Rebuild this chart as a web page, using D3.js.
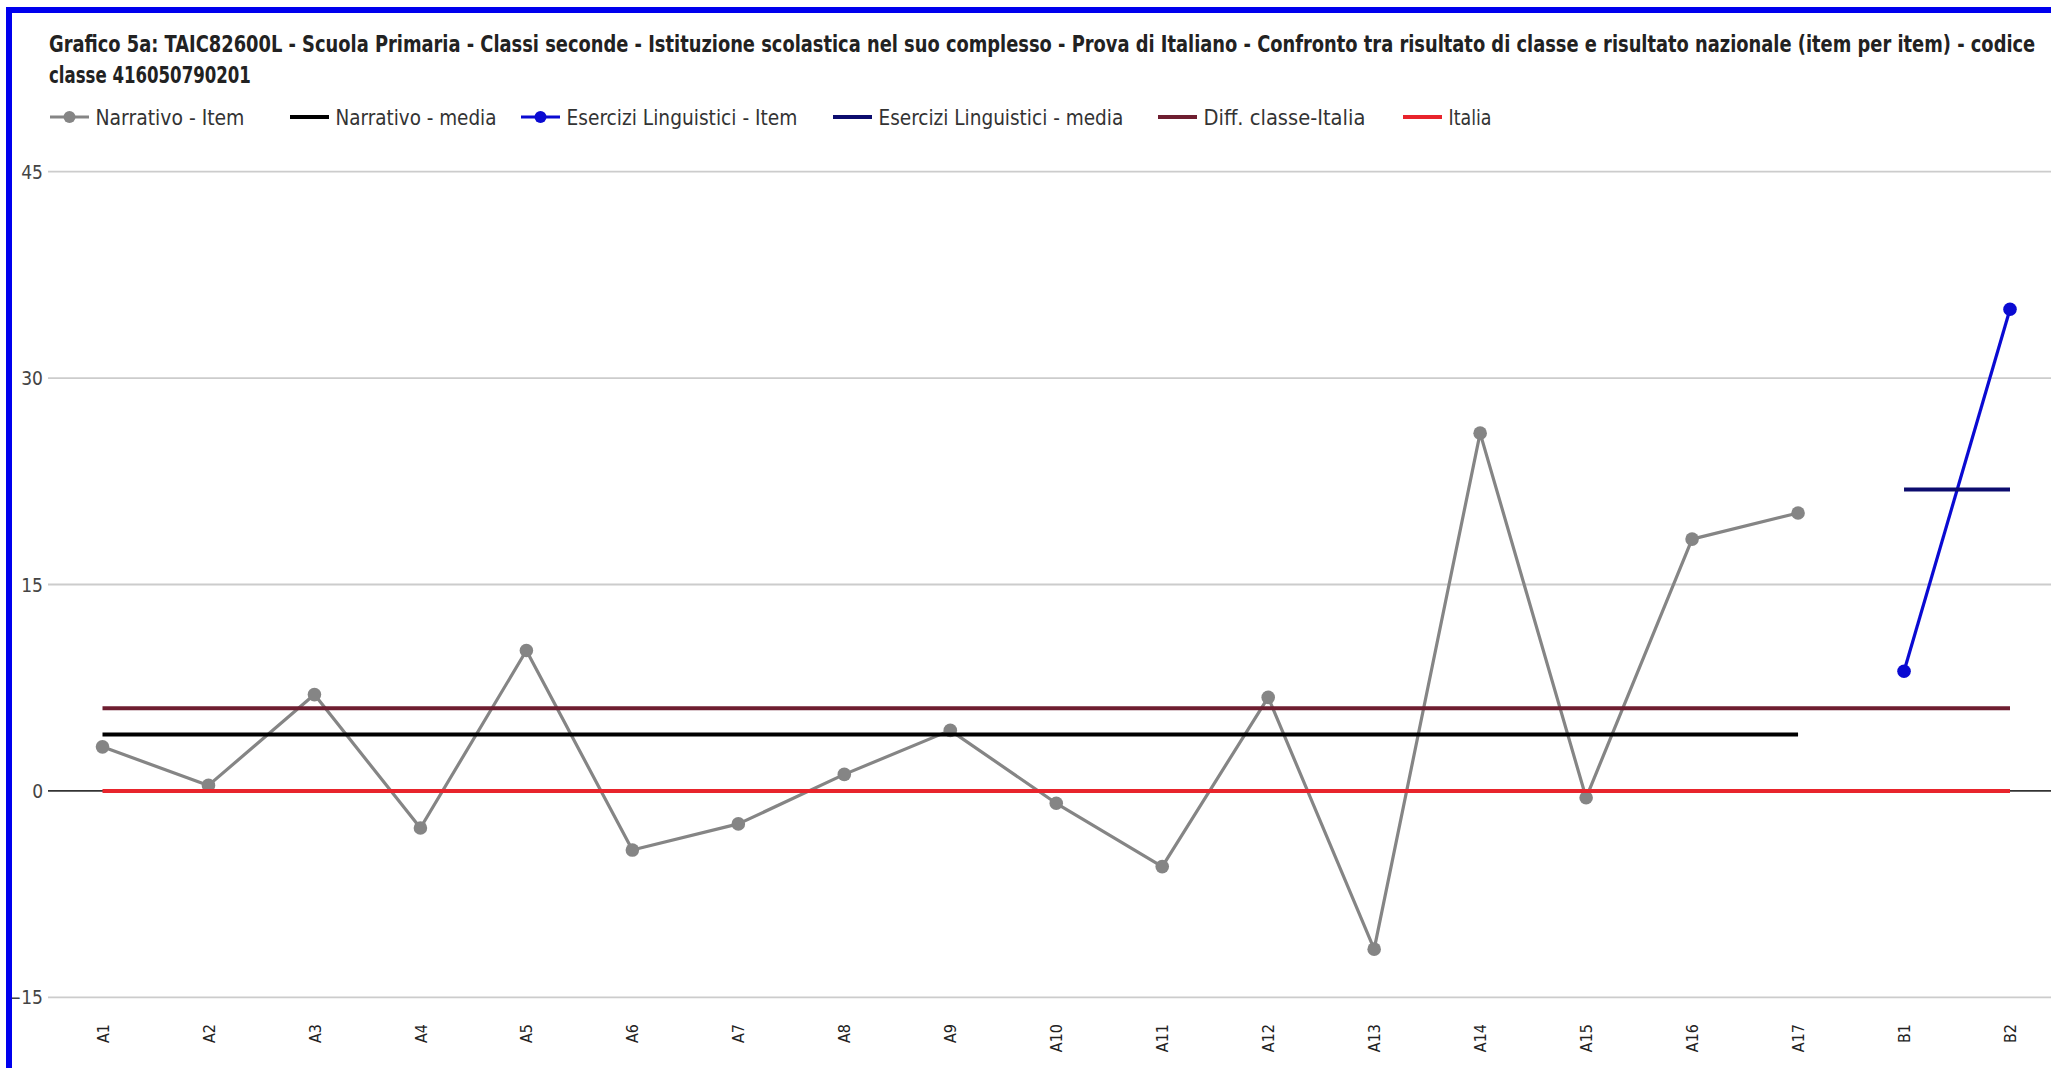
<!DOCTYPE html>
<html>
<head>
<meta charset="utf-8">
<script src="https://cdn.jsdelivr.net/npm/d3@7"></script>
<style>
  html, body { margin: 0; padding: 0; background: #fff; overflow: hidden; }
  svg { display: block; }
</style>
</head>
<body>
<script>
// ---------- DATA ----------
const categories = ["A1","A2","A3","A4","A5","A6","A7","A8","A9","A10","A11","A12","A13","A14","A15","A16","A17","B1","B2"];
const narrativoItem   = [3.2, 0.4, 7.0, -2.7, 10.2, -4.3, -2.4, 1.2, 4.4, -0.9, -5.5, 6.8, -11.5, 26.0, -0.5, 18.3, 20.2, null, null];
const narrativoMedia  = [4.1, 4.1, 4.1, 4.1, 4.1, 4.1, 4.1, 4.1, 4.1, 4.1, 4.1, 4.1, 4.1, 4.1, 4.1, 4.1, 4.1, null, null];
const eserciziItem    = [null, null, null, null, null, null, null, null, null, null, null, null, null, null, null, null, null, 8.7, 35.0];
const eserciziMedia   = [null, null, null, null, null, null, null, null, null, null, null, null, null, null, null, null, null, 21.9, 21.9];
const diffClasseItalia= [6.0, 6.0, 6.0, 6.0, 6.0, 6.0, 6.0, 6.0, 6.0, 6.0, 6.0, 6.0, 6.0, 6.0, 6.0, 6.0, 6.0, 6.0, 6.0];
const italia          = [0, 0, 0, 0, 0, 0, 0, 0, 0, 0, 0, 0, 0, 0, 0, 0, 0, 0, 0];
const yTicks = [-15, 0, 15, 30, 45];
const seriesNames = ["Narrativo - Item", "Narrativo - media", "Esercizi Linguistici - Item", "Esercizi Linguistici - media", "Diff. classe-Italia", "Italia"];
const titleLine1 = "Grafico 5a: TAIC82600L - Scuola Primaria - Classi seconde - Istituzione scolastica nel suo complesso - Prova di Italiano - Confronto tra risultato di classe e risultato nazionale (item per item) - codice";
const titleLine2 = "classe 416050790201";

// ---------- STYLE ----------
const W = 2051, H = 1068;
const FONT = "'Liberation Sans Narrow', 'DejaVu Sans Condensed', 'Liberation Sans', sans-serif";
const series = [
  { name: seriesNames[0], values: narrativoItem,    color: "#858585", width: 3.2, marker: true },
  { name: seriesNames[1], values: narrativoMedia,   color: "#000000", width: 4,   marker: false },
  { name: seriesNames[2], values: eserciziItem,     color: "#0a0ad2", width: 3.2, marker: true },
  { name: seriesNames[3], values: eserciziMedia,    color: "#0c0c6e", width: 4,   marker: false },
  { name: seriesNames[4], values: diffClasseItalia, color: "#6e1e30", width: 4,   marker: false },
  { name: seriesNames[5], values: italia,           color: "#e8242c", width: 4,   marker: false }
];

const svg = d3.select("body").append("svg").attr("width", W).attr("height", H);
svg.append("rect").attr("width", W).attr("height", H).attr("fill", "#fff");

// scales
const x = d3.scalePoint().domain(categories).range([102.5, 2010]);
const y = d3.scaleLinear().domain([-15, 45]).range([997.3, 171.7]);

// gridlines
const gridLeft = 48, gridRight = W;
svg.append("g").selectAll("line").data(yTicks.filter(d => d !== 0)).join("line")
  .attr("x1", gridLeft).attr("x2", gridRight)
  .attr("y1", d => y(d)).attr("y2", d => y(d))
  .attr("stroke", "#cccccc").attr("stroke-width", 1.8);

// zero baseline
svg.append("line").attr("x1", gridLeft).attr("x2", gridRight)
  .attr("y1", y(0)).attr("y2", y(0)).attr("stroke", "#333").attr("stroke-width", 1.6);

// y axis labels via d3 axis
const yAxis = d3.axisLeft(y).tickValues(yTicks).tickSize(0).tickPadding(0).tickFormat(d3.format("d"));
const gy = svg.append("g").attr("transform", "translate(43,0)").call(yAxis);
gy.select(".domain").remove();
gy.selectAll("text").attr("font-family", FONT).attr("font-size", 19).attr("fill", "#444").attr("dy", "0.35em");

// x axis labels via d3 axis
const xAxis = d3.axisBottom(x).tickSize(0).tickPadding(0);
const gx = svg.append("g").attr("transform", "translate(0,1024)").call(xAxis);
gx.select(".domain").remove();
gx.selectAll("text")
  .attr("font-family", FONT).attr("font-size", 16).attr("fill", "#222")
  .attr("text-anchor", "end").attr("transform", "rotate(-90)")
  .attr("x", 0).attr("y", 0).attr("dy", "0.35em");

// series
const line = d3.line().defined(d => d.v !== null).x(d => x(d.c)).y(d => y(d.v));
series.forEach(s => {
  const pts = categories.map((c, i) => ({ c, v: s.values[i] }));
  svg.append("path").datum(pts).attr("d", line)
    .attr("fill", "none").attr("stroke", s.color).attr("stroke-width", s.width)
    .attr("stroke-linejoin", "round");
  if (s.marker) {
    svg.append("g").selectAll("circle").data(pts.filter(d => d.v !== null)).join("circle")
      .attr("cx", d => x(d.c)).attr("cy", d => y(d.v)).attr("r", 6.8).attr("fill", s.color);
  }
});

// text condensed horizontally (keeps glyph height) to match the narrow original font
function narrowText(parent, tx, ty, str, size, weight, target, extraAttrs) {
  const g = parent.append("g");
  const t = g.append("text").attr("x", 0).attr("y", 0).text(str)
    .attr("font-family", FONT).attr("font-weight", weight).attr("font-size", size).attr("fill", "#222");
  if (extraAttrs) extraAttrs(t);
  const len = t.node().getComputedTextLength();
  const k = len > target ? target / len : 1;
  g.attr("transform", `translate(${tx},${ty}) scale(${k},1)`);
  return t;
}
narrowText(svg, 49, 52, titleLine1, 23, "bold", 1988);
narrowText(svg, 49, 83, titleLine2, 23, "bold", 202);

// legend
const legendX = [50, 290, 521, 833, 1158, 1403];
const legendW = [149, 161, 231, 245, 162, 43];
const legendY = 117;
const lg = svg.append("g");
series.forEach((s, i) => {
  const g = lg.append("g").attr("transform", `translate(${legendX[i]},${legendY})`);
  g.append("line").attr("x1", 0).attr("x2", 39).attr("y1", 0).attr("y2", 0)
    .attr("stroke", s.color).attr("stroke-width", s.marker ? 3.2 : 4);
  if (s.marker) g.append("circle").attr("cx", 19.5).attr("cy", 0).attr("r", 6).attr("fill", s.color);
  narrowText(g, 45.5, 0, s.name, 22, "normal", legendW[i], t => t.attr("dy", "0.35em").attr("fill", "#333"));
});

// blue frame (top and left edges)
svg.append("rect").attr("x", 6).attr("y", 7).attr("width", W - 6).attr("height", 6).attr("fill", "#0000ee");
svg.append("rect").attr("x", 6).attr("y", 7).attr("width", 6).attr("height", H - 7).attr("fill", "#0000ee");
</script>
</body>
</html>
